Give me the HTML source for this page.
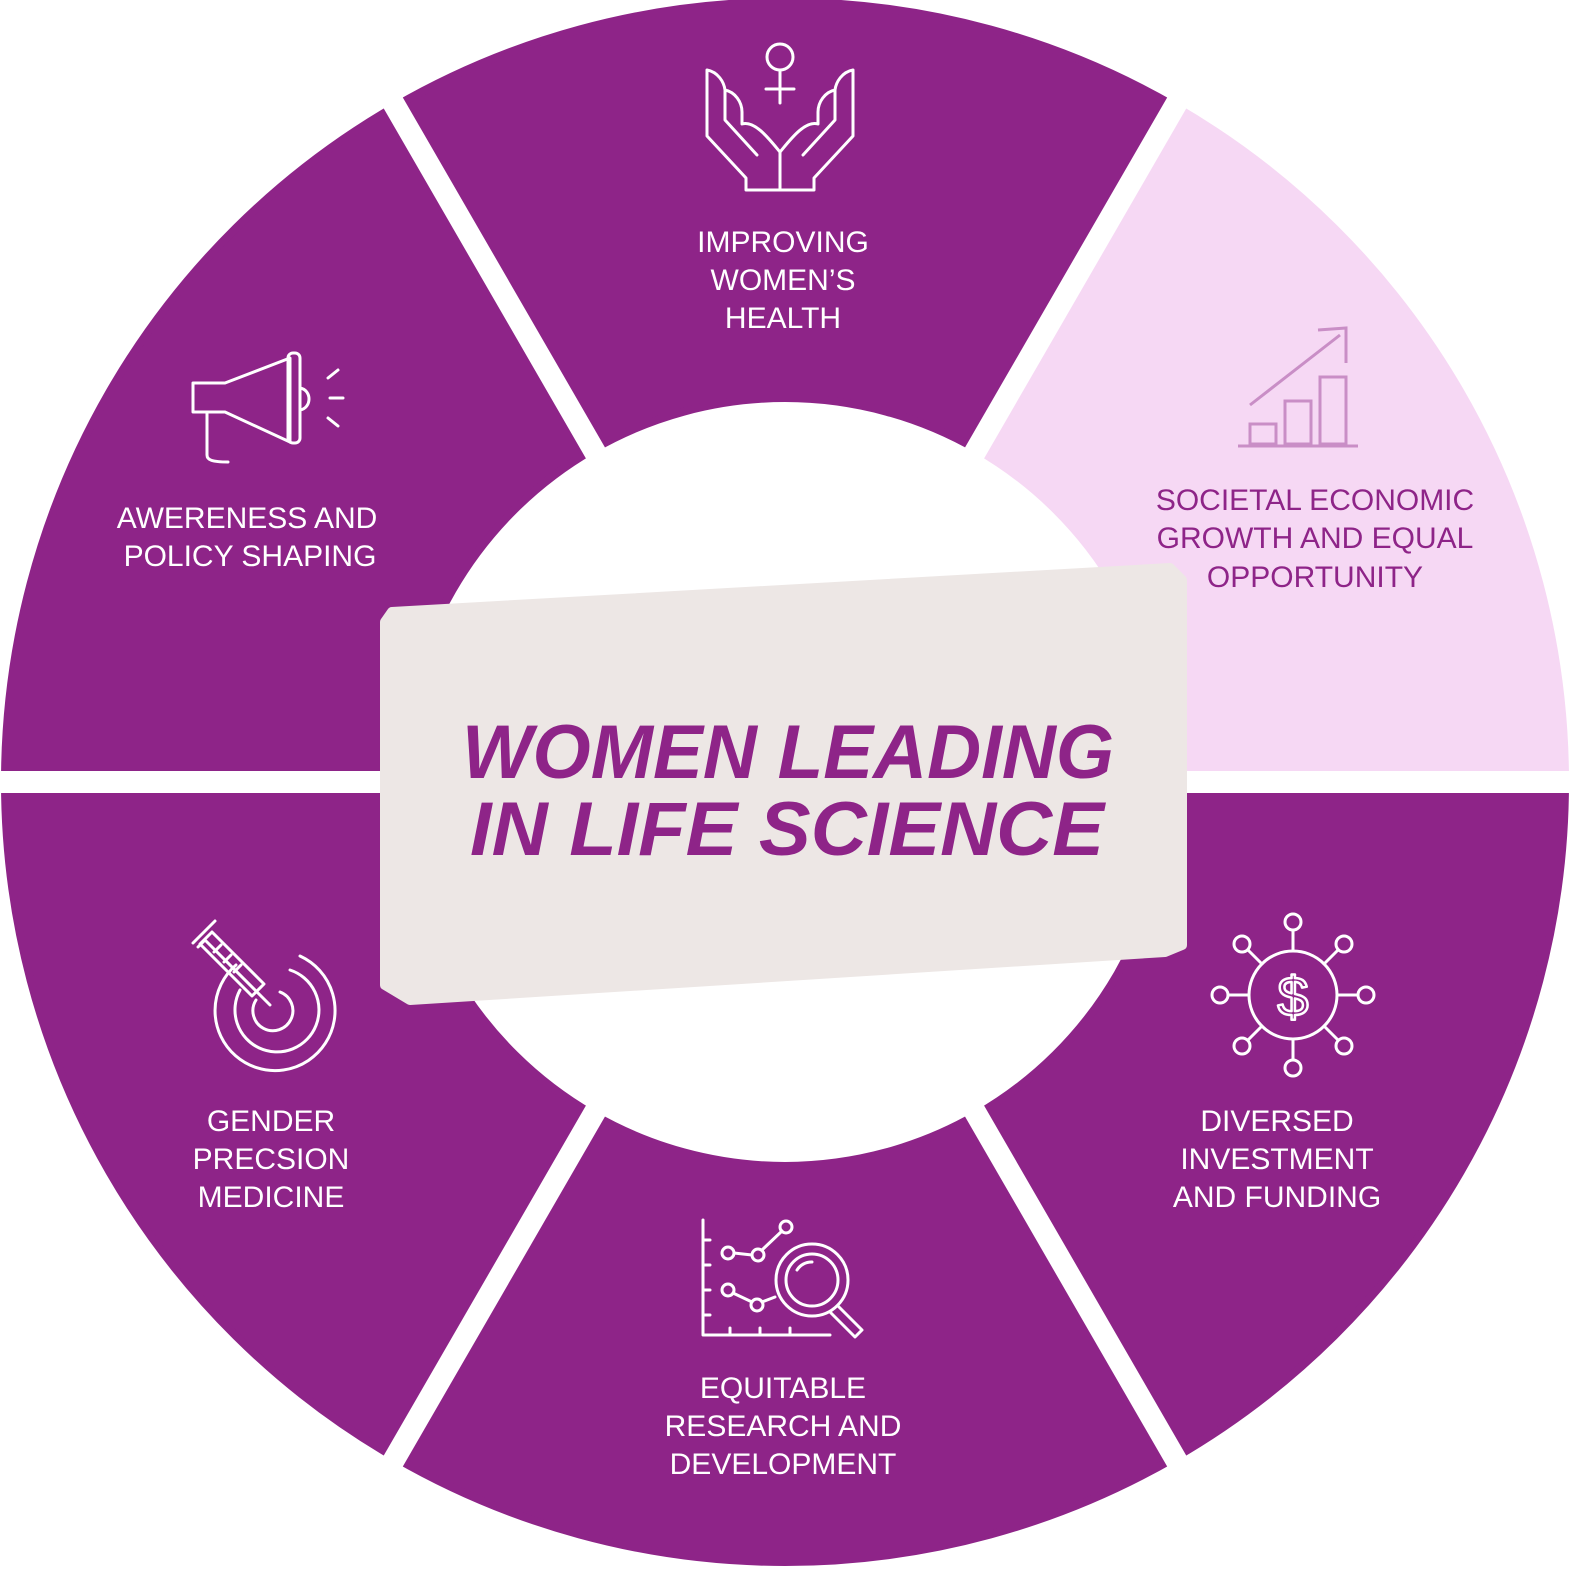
<!DOCTYPE html>
<html><head><meta charset="utf-8"><style>
html,body{margin:0;padding:0;background:#fff;width:1581px;height:1576px;overflow:hidden}
svg{display:block}
.l{font-family:"Liberation Sans",sans-serif;font-size:30px;fill:#fff;text-anchor:middle}
.p{fill:#8e2488}
.ic{fill:none;stroke:#fff;stroke-width:3;stroke-linejoin:round;stroke-linecap:round}
</style></head><body>
<svg width="1581" height="1576" viewBox="0 0 1581 1576" xmlns="http://www.w3.org/2000/svg">
<g stroke-linejoin="round" stroke-width="8">
<path fill="#8e2488" stroke="#8e2488" d="M1175 106.5 A780 780 0 0 0 395 106.5 L593 449.5 A384 384 0 0 1 977 449.5 Z"/>
<path fill="#8e2488" stroke="#8e2488" d="M395 106.5 A780 780 0 0 0 5 782 L401 782 A384 384 0 0 1 593 449.5 Z"/>
<path fill="#8e2488" stroke="#8e2488" d="M5 782 A780 780 0 0 0 395 1457.5 L593 1114.5 A384 384 0 0 1 401 782 Z"/>
<path fill="#8e2488" stroke="#8e2488" d="M395 1457.5 A780 780 0 0 0 1175 1457.5 L977 1114.5 A384 384 0 0 1 593 1114.5 Z"/>
<path fill="#8e2488" stroke="#8e2488" d="M1175 1457.5 A780 780 0 0 0 1565 782 L1169 782 A384 384 0 0 1 977 1114.5 Z"/>
<path fill="#f6d8f4" stroke="#f6d8f4" d="M1565 782 A780 780 0 0 0 1175 106.5 L977 449.5 A384 384 0 0 1 1169 782 Z"/>
</g>
<g stroke="#fff" stroke-width="22">
<line x1="1175" y1="782" x2="1590" y2="782"/>
<line x1="-10" y1="782" x2="420" y2="782"/>
<line x1="1190" y1="80" x2="967" y2="466"/>
<line x1="380" y1="80" x2="603" y2="466"/>
<line x1="380" y1="1484" x2="603" y2="1098"/>
<line x1="1190" y1="1484" x2="967" y2="1098"/>
</g>
<polygon points="392,612 1170,568 1182,580 1182,945 1165,952 410,1000 385,985 385,622" fill="#ede7e5" stroke="#ede7e5" stroke-width="10" stroke-linejoin="round"/>
<g font-family="Liberation Sans,sans-serif" font-weight="bold" font-style="italic" font-size="76" class="p">
<text x="462" y="778" textLength="652" lengthAdjust="spacingAndGlyphs">WOMEN LEADING</text>
<text x="470" y="855" textLength="634" lengthAdjust="spacingAndGlyphs">IN LIFE SCIENCE</text>
</g>
<text class="l" x="783" y="252">IMPROVING</text>
<text class="l" x="783" y="290">WOMEN’S</text>
<text class="l" x="783" y="328">HEALTH</text>
<text class="l" x="247" y="528">AWERENESS AND</text>
<text class="l" x="250" y="566">POLICY SHAPING</text>
<g class="l" style="fill:#8e2488">
<text x="1315" y="510">SOCIETAL ECONOMIC</text>
<text x="1315" y="548">GROWTH AND EQUAL</text>
<text x="1315" y="587">OPPORTUNITY</text>
</g>
<text class="l" x="1277" y="1131">DIVERSED</text>
<text class="l" x="1277" y="1169">INVESTMENT</text>
<text class="l" x="1277" y="1207">AND FUNDING</text>
<text class="l" x="783" y="1398">EQUITABLE</text>
<text class="l" x="783" y="1436">RESEARCH AND</text>
<text class="l" x="783" y="1474">DEVELOPMENT</text>
<text class="l" x="271" y="1131">GENDER</text>
<text class="l" x="271" y="1169">PRECSION</text>
<text class="l" x="271" y="1207">MEDICINE</text>
<g class="ic">
<circle cx="780" cy="57" r="13"/><line x1="780" y1="70" x2="780" y2="103"/><line x1="766" y1="89" x2="794" y2="89"/>
<path d="M780 190 L746 190 L746 178 L707 136 L707 70 C718 72 724 82 725 90 C735 92 742 102 742 112 L742 124 C755 120 770 140 780 152 L780 190"/>
<path d="M725 90 L725 120 L757 155"/>
<path d="M780 190 L814 190 L814 178 L853 136 L853 70 C842 72 836 82 835 90 C825 92 818 102 818 112 L818 124 C805 120 790 140 780 152"/>
<path d="M835 90 L835 120 L803 155"/>
</g>
<g class="ic">
<path d="M193 383 L225 383 L290 358 L290 442 L225 412 L193 412 Z"/>
<rect x="288" y="353" width="12" height="90" rx="5"/>
<path d="M300 388 C312 390 312 408 300 410"/>
<path d="M207 412 L207 455 C207 460 212 462 228 462"/>
<line x1="328" y1="378" x2="338" y2="370"/><line x1="330" y1="398" x2="343" y2="398"/><line x1="328" y1="418" x2="338" y2="426"/>
</g>
<g fill="none" stroke="#c98ec6" stroke-width="3">
<line x1="1238" y1="446" x2="1358" y2="446"/>
<rect x="1250" y="424" width="26" height="20"/>
<rect x="1285" y="401" width="26" height="43"/>
<rect x="1320" y="377" width="26" height="67"/>
<path d="M1250 405 L1340 335"/><path d="M1318 330 L1346 328 L1346 363"/>
</g>
<g class="ic">
<circle cx="1293" cy="995" r="44"/>
<text x="1293" y="1016" font-family="Liberation Sans,sans-serif" font-size="56" fill="none" stroke="#fff" stroke-width="2.5" text-anchor="middle">$</text>
<line x1="1293" y1="951" x2="1293" y2="930"/><circle cx="1293" cy="922" r="8"/>
<line x1="1293" y1="1039" x2="1293" y2="1060"/><circle cx="1293" cy="1068" r="8"/>
<line x1="1249" y1="995" x2="1228" y2="995"/><circle cx="1220" cy="995" r="8"/>
<line x1="1337" y1="995" x2="1358" y2="995"/><circle cx="1366" cy="995" r="8"/>
<line x1="1262" y1="964" x2="1248" y2="950"/><circle cx="1242" cy="944" r="8"/>
<line x1="1324" y1="964" x2="1338" y2="950"/><circle cx="1344" cy="944" r="8"/>
<line x1="1262" y1="1026" x2="1248" y2="1040"/><circle cx="1242" cy="1046" r="8"/>
<line x1="1324" y1="1026" x2="1338" y2="1040"/><circle cx="1344" cy="1046" r="8"/>
</g>
<g class="ic">
<path d="M236 965 A60 60 0 1 0 300 956"/>
<path d="M240 990 A42 42 0 1 0 290 970"/>
<path d="M256 1000 A20 20 0 1 0 280 992"/>
<path d="M205 940 L262 997 L270 1005 L258 993 M205 940 L198 947 M212 932 L264 984 L252 996 L200 944 Z"/>
<line x1="193" y1="943" x2="215" y2="921"/><line x1="214" y1="952" x2="221" y2="945"/><line x1="224" y1="962" x2="231" y2="955"/><line x1="234" y1="972" x2="241" y2="965"/>
</g>
<g class="ic">
<path d="M703 1220 L703 1335 L830 1335"/>
<line x1="703" y1="1240" x2="710" y2="1240"/><line x1="703" y1="1265" x2="710" y2="1265"/><line x1="703" y1="1290" x2="710" y2="1290"/><line x1="703" y1="1315" x2="710" y2="1315"/>
<line x1="730" y1="1335" x2="730" y2="1328"/><line x1="760" y1="1335" x2="760" y2="1328"/><line x1="790" y1="1335" x2="790" y2="1328"/>
<circle cx="728" cy="1253" r="6"/><circle cx="758" cy="1255" r="6"/><circle cx="786" cy="1227" r="6"/>
<line x1="734" y1="1253" x2="752" y2="1255"/><line x1="762" y1="1250" x2="782" y2="1231"/>
<circle cx="728" cy="1290" r="6"/><circle cx="757" cy="1305" r="6"/>
<line x1="733" y1="1293" x2="752" y2="1302"/><line x1="762" y1="1302" x2="775" y2="1297"/>
<circle cx="812" cy="1280" r="36"/><circle cx="812" cy="1280" r="26"/>
<path d="M797 1270 A17 17 0 0 1 812 1262"/>
<path d="M838 1306 L862 1330 L855 1337 L831 1313"/>
</g>
</svg>
</body></html>
